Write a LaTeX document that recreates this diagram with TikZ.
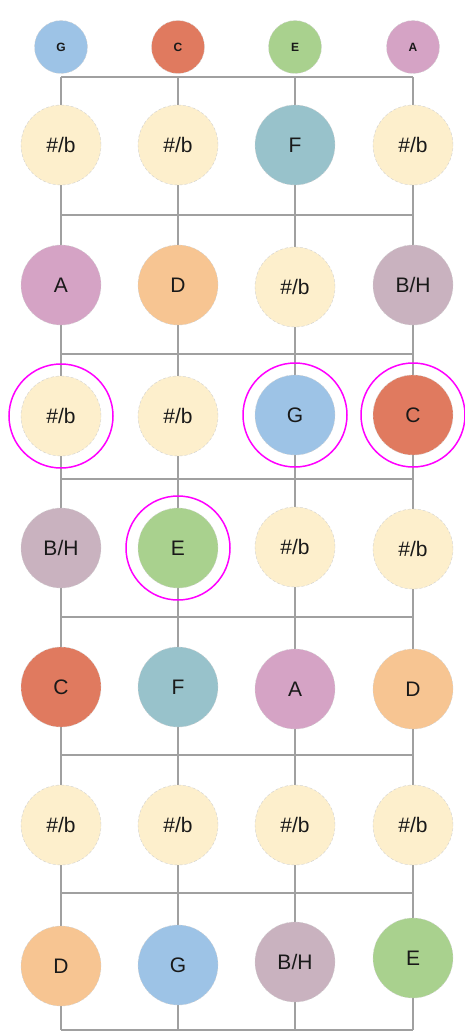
\documentclass[tikz,border=0pt]{standalone}
\usepackage{fontspec}
\setmainfont{Liberation Sans}
\definecolor{sharpflat}{HTML}{FDEFCC}
\definecolor{noteG}{HTML}{9DC3E6}
\definecolor{noteC}{HTML}{E07A5F}
\definecolor{noteE}{HTML}{A9D18E}
\definecolor{noteA}{HTML}{D5A3C5}
\definecolor{noteF}{HTML}{98C2CB}
\definecolor{noteD}{HTML}{F7C592}
\definecolor{noteH}{HTML}{C9B2BF}
\definecolor{fretgray}{HTML}{A0A0A0}
\definecolor{mark}{HTML}{FF00FF}
\tikzstyle{note}=[circle, minimum size=80pt, inner sep=0pt, draw=black!18, densely dashed, thin, text=black!90, font=\fontsize{21}{21}\selectfont]
\tikzstyle{opennote}=[note, minimum size=53pt, font=\fontsize{12}{12}\selectfont\bfseries]
\tikzstyle{ring}=[circle, minimum size=104pt, inner sep=0pt, draw=mark, line width=1.5pt, solid]
\tikzstyle{wire}=[draw=fretgray, line width=2.5pt]

\begin{document}
\begin{tikzpicture}[x=1pt, y=-1pt]
\useasboundingbox (0,0) rectangle (465,1033);
% Strings
    \coordinate (s1t) at (61,77);   \coordinate (s1b) at (61,1030);
    \coordinate (s2t) at (178,77);  \coordinate (s2b) at (178,1030);
    \coordinate (s3t) at (295,77);  \coordinate (s3b) at (295,1030);
    \coordinate (s4t) at (413,77);  \coordinate (s4b) at (413,1030);
    \draw[wire] (s1t) -- (s1b);
    \draw[wire] (s2t) -- (s2b);
    \draw[wire] (s3t) -- (s3b);
    \draw[wire] (s4t) -- (s4b);
% Nut and frets
    \coordinate (f1l) at (61,215);  \coordinate (f1r) at (413,215);
    \coordinate (f2l) at (61,354);  \coordinate (f2r) at (413,354);
    \coordinate (f3l) at (61,479);  \coordinate (f3r) at (413,479);
    \coordinate (f4l) at (61,617);  \coordinate (f4r) at (413,617);
    \coordinate (f5l) at (61,755);  \coordinate (f5r) at (413,755);
    \coordinate (f6l) at (61,893);  \coordinate (f6r) at (413,893);
    \draw[wire] (s1t) -- (s4t);
    \draw[wire] (f1l) -- (f1r);
    \draw[wire] (f2l) -- (f2r);
    \draw[wire] (f3l) -- (f3r);
    \draw[wire] (f4l) -- (f4r);
    \draw[wire] (f5l) -- (f5r);
    \draw[wire] (f6l) -- (f6r);
    \draw[wire] (s1b) -- (s4b);
% Open strings
    \node[opennote, fill=noteG] (oG) at (61,47) {G};
    \node[opennote, fill=noteC] (oC) at (178,47) {C};
    \node[opennote, fill=noteE] (oE) at (295,47) {E};
    \node[opennote, fill=noteA] (oA) at (413,47) {A};
% Fret 1
    \node[note, fill=sharpflat] (n1a) at (61,145) {\#/b};
    \node[note, fill=sharpflat] (n1b) at (178,145) {\#/b};
    \node[note, fill=noteF] (n1c) at (295,145) {F};
    \node[note, fill=sharpflat] (n1d) at (413,145) {\#/b};
% Fret 2
    \node[note, fill=noteA] (n2a) at (61,285) {A};
    \node[note, fill=noteD] (n2b) at (178,285) {D};
    \node[note, fill=sharpflat] (n2c) at (295,287) {\#/b};
    \node[note, fill=noteH] (n2d) at (413,285) {B/H};
% Fret 3
    \node[note, fill=sharpflat] (n3a) at (61,416) {\#/b};
    \node[note, fill=sharpflat] (n3b) at (178,416) {\#/b};
    \node[note, fill=noteG] (n3c) at (295,415) {G};
    \node[note, fill=noteC] (n3d) at (413,415) {C};
% Fret 4
    \node[note, fill=noteH] (n4a) at (61,548) {B/H};
    \node[note, fill=noteE] (n4b) at (178,548) {E};
    \node[note, fill=sharpflat] (n4c) at (295,547) {\#/b};
    \node[note, fill=sharpflat] (n4d) at (413,549) {\#/b};
% Fret 5
    \node[note, fill=noteC] (n5a) at (61,687) {C};
    \node[note, fill=noteF] (n5b) at (178,687) {F};
    \node[note, fill=noteA] (n5c) at (295,689) {A};
    \node[note, fill=noteD] (n5d) at (413,689) {D};
% Fret 6
    \node[note, fill=sharpflat] (n6a) at (61,825) {\#/b};
    \node[note, fill=sharpflat] (n6b) at (178,825) {\#/b};
    \node[note, fill=sharpflat] (n6c) at (295,825) {\#/b};
    \node[note, fill=sharpflat] (n6d) at (413,825) {\#/b};
% Fret 7
    \node[note, fill=noteD] (n7a) at (61,966) {D};
    \node[note, fill=noteG] (n7b) at (178,965) {G};
    \node[note, fill=noteH] (n7c) at (295,962) {B/H};
    \node[note, fill=noteE] (n7d) at (413,958) {E};
% Marked notes
    \node[ring] (r3a) at (n3a) {};
    \node[ring] (r3c) at (n3c) {};
    \node[ring] (r3d) at (n3d) {};
    \node[ring] (r4b) at (n4b) {};
\end{tikzpicture}
\end{document}
